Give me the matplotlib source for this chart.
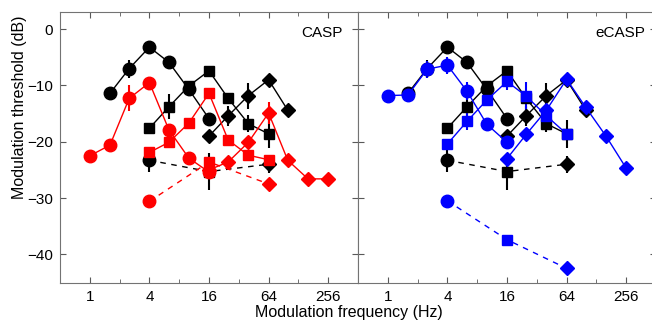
import numpy as np
import matplotlib.pyplot as plt
from matplotlib.ticker import FixedLocator, NullFormatter

plt.rcParams['font.family'] = ['Liberation Sans', 'DejaVu Sans']
plt.rcParams['axes.unicode_minus'] = True

# Frecuencias de modulación (Hz)
f_c  = [1.6, 2.5, 4, 6.3, 10, 16]
f_c1 = [1, 1.6, 2.5, 4, 6.3, 10, 16]
f_s  = [4, 6.3, 10, 16, 25, 40, 64]
f_d  = [16, 25, 40, 64, 100]
f_d1 = [16, 25, 40, 64, 100, 160, 256]
f_ds = [4, 16, 64]

# Datos (umbral de modulación, dB) - mediciones en negro
data_c  = [-11.4, -7.0, -3.2, -5.9, -10.7, -15.9]
err_c   = [1.0, 1.6, 0.3, 0.3, 0.5, 0.3]
data_s  = [-17.6, -13.8, -10.1, -7.4, -12.3, -16.8, -18.6]
err_s   = [1.0, 2.2, 0.5, 0.5, 0.5, 1.5, 2.5]
data_d  = [-19.0, -15.4, -11.8, -9.0, -14.4]
err_d   = [0.5, 1.8, 2.3, 0.5, 1.0]
data_ds = [-23.3, -25.3, -24.0]
err_ds  = [2.0, 3.3, 1.5]

# Modelo CASP (rojo)
casp_c  = [-22.5, -20.6, -12.3, -9.5, -17.9, -22.9, -25.4]
casp_ec = [0.3, 0.7, 2.3, 0.3, 0.5, 1.0, 0.5]
casp_s  = [-21.9, -20.1, -16.7, -11.4, -19.7, -22.4, -23.2]
casp_es = [0.8, 0.5, 0.3, 1.0, 0.3, 0.3, 0.3]
casp_d  = [-25.0, -23.6, -20.1, -14.9, -23.3, -26.6, -26.6]
casp_ed = [0.5, 0.5, 0.5, 2.0, 0.3, 0.3, 0.3]
casp_ds = [-30.6, -23.6, -27.5]

# Modelo eCASP (azul)
ecasp_c  = [-11.8, -11.7, -7.1, -6.4, -11.0, -16.9, -20.1]
ecasp_ec = [0.3, 0.7, 1.5, 1.5, 1.6, 1.2, 0.5]
ecasp_s  = [-20.4, -16.4, -12.6, -9.3, -11.9, -15.4, -18.6]
ecasp_es = [0.5, 1.5, 1.0, 1.5, 2.5, 0.5, 0.5]
ecasp_d  = [-23.0, -18.7, -14.4, -8.9, -13.9, -19.0, -24.7]
ecasp_ed = [0.3, 0.3, 0.3, 0.5, 0.3, 0.3, 0.3]
ecasp_ds = [-30.5, -37.4, -42.5]

xticks = [1, 4, 16, 64, 256]
xminor = [2, 8, 32, 128]
yticks = [0, -10, -20, -30, -40]

red, blue, black = '#ff0000', '#0000ff', 'k'


def serie(ax, f, y, e, clr, mk, ms, ls='-'):
    ax.errorbar(f, y, yerr=e, color=clr, ls=ls, lw=1.0, marker=mk, ms=ms,
                mfc=clr, mec=clr, elinewidth=1.5, capsize=0)


def dashed(ax, y, e, clr):
    ax.plot(f_ds, y, '--', color=clr, lw=1.0, dashes=(4, 4))
    if e is not None:
        ax.errorbar(f_ds, y, yerr=e, ls='none', color=clr, elinewidth=1.5, capsize=0)
    for fx, yy, mk, ms in zip(f_ds, y, ['o', 's', 'D'], [9, 7.5, 7.5]):
        ax.plot(fx, yy, marker=mk, ms=ms, color=clr, ls='none')


def mediciones(ax):
    serie(ax, f_c, data_c, err_c, black, 'o', 9)
    serie(ax, f_s, data_s, err_s, black, 's', 7.5)
    serie(ax, f_d, data_d, err_d, black, 'D', 7.5)
    dashed(ax, data_ds, err_ds, black)


def formato(ax, etiqueta):
    ax.set_xscale('log', base=2)
    ax.set_xlim(0.5, 512)
    ax.set_ylim(-45.1, 3.1)
    ax.xaxis.set_major_locator(FixedLocator(xticks))
    ax.xaxis.set_minor_locator(FixedLocator(xminor))
    ax.xaxis.set_minor_formatter(NullFormatter())
    ax.set_xticklabels([str(v) for v in xticks])
    ax.set_yticks(yticks)
    ax.tick_params(which='both', direction='in', top=True, right=True,
                   labelsize=11, pad=5, color='0.35')
    ax.tick_params(which='major', length=4)
    ax.tick_params(which='minor', length=3)
    for s in ax.spines.values():
        s.set_color('0.45')
        s.set_linewidth(0.8)
    ax.text(0.88, 0.92, etiqueta, transform=ax.transAxes, ha='center',
            va='center', fontsize=11)


fig = plt.figure(figsize=(6.52, 3.23), dpi=100)
fig.patch.set_facecolor('white')
ax1 = fig.add_axes([60/652, 40/323, 298/652, 271.3/323])
ax2 = fig.add_axes([358/652, 40/323, 298/652, 271.3/323])

# Panel CASP
mediciones(ax1)
serie(ax1, f_c1, casp_c, casp_ec, red, 'o', 9)
serie(ax1, f_s, casp_s, casp_es, red, 's', 7.5)
serie(ax1, f_d1, casp_d, casp_ed, red, 'D', 7.5)
dashed(ax1, casp_ds, None, red)
formato(ax1, 'CASP')

# Panel eCASP
mediciones(ax2)
serie(ax2, f_c1, ecasp_c, ecasp_ec, blue, 'o', 9)
serie(ax2, f_s, ecasp_s, ecasp_es, blue, 's', 7.5)
serie(ax2, f_d1, ecasp_d, ecasp_ed, blue, 'D', 7.5)
dashed(ax2, ecasp_ds, None, blue)
formato(ax2, 'eCASP')
ax2.set_yticklabels([])

fig.text(349/652, 1 - 312/323, 'Modulation frequency (Hz)', ha='center',
         va='center', fontsize=11.5)
fig.text(20/652, 1 - 107/323, 'Modulation threshold (dB)', ha='center',
         va='center', rotation=90, fontsize=11.5)

plt.savefig('out.png', dpi=100)
